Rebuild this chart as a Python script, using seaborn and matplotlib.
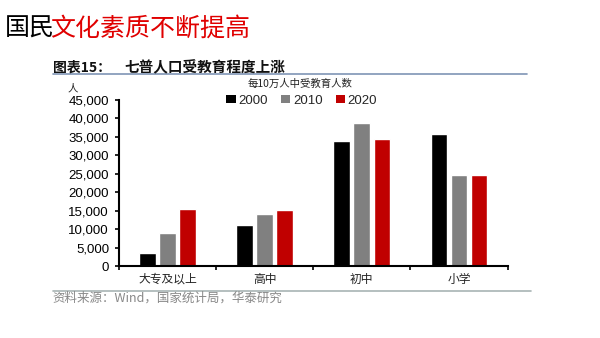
import matplotlib
matplotlib.use("Agg")
import matplotlib.pyplot as plt
import seaborn as sns
import pandas as pd
from matplotlib.ticker import FuncFormatter, FixedLocator
from matplotlib.patches import Patch

categories = ["大专及以上", "高中", "初中", "小学"]
years = ["2000", "2010", "2020"]
v2000 = [3611, 11146, 33961, 35701]
v2010 = [8930, 14032, 38788, 24700]
v2020 = [15467, 15088, 34507, 24767]
yticks = [0, 5000, 10000, 15000, 20000, 25000, 30000, 35000, 40000, 45000]
colors = ["#000000", "#808080", "#C00000"]

rows = []
for yr, vals in zip(years, [v2000, v2010, v2020]):
    for c, v in zip(categories, vals):
        rows.append({"类别": c, "年份": yr, "人数": v})
df = pd.DataFrame(rows)

sns.set_theme(style="white")
plt.rcParams['font.family'] = ['Noto Sans CJK SC', 'DejaVu Sans']

fig = plt.figure(figsize=(6, 3.38), dpi=100)
ax = fig.add_axes([0.198, 0.213, 0.648, 0.491])
sns.barplot(data=df, x="类别", y="人数", hue="年份", palette=colors,
            width=0.62, gap=0.17, ax=ax, legend=False, saturation=1)

ax.set_ylim(0, 45000)
ax.set_xlim(-0.5, 3.5)
ax.yaxis.set_major_locator(FixedLocator(yticks))
ax.yaxis.set_major_formatter(FuncFormatter(lambda v, p: f"{int(v):,}"))
for lab in ax.get_yticklabels():
    lab.set_family(['Liberation Sans'])
ax.tick_params(axis='y', labelsize=9.5, length=3, width=1.2, direction='out', left=True, pad=4, colors='black')
ax.set_xticks([0, 1, 2, 3])
ax.set_xticklabels(categories, fontsize=8.5, color='#222222')
ax.tick_params(axis='x', length=0, pad=5)
ax.set_xticks([-0.5, 0.5, 1.5, 2.5, 3.5], minor=True)
ax.tick_params(axis='x', which='minor', length=3, width=1.2, direction='out', bottom=True, color='black')
ax.set_xlabel("")
ax.set_ylabel("")
for s in ["top", "right"]:
    ax.spines[s].set_visible(False)
for s in ["left", "bottom"]:
    ax.spines[s].set_color("black")
    ax.spines[s].set_linewidth(1.5)

handles = [Patch(facecolor=c, edgecolor='none') for c in colors]
fig.legend(handles, years, loc='center', bbox_to_anchor=(0.503, 0.702), ncol=3,
           frameon=False, handlelength=0.7, handleheight=0.5,
           handletextpad=0.2, columnspacing=1.0,
           prop={'family': ['Liberation Sans'], 'size': 9.5})
fig.text(0.5, 0.752, "每10万人中受教育人数", ha='center', va='center', fontsize=7.5, color='#222222')
fig.text(0.122, 0.738, "人", ha='center', va='center', fontsize=7.5, color='#222222')

# titles
t1 = fig.text(0.008, 0.915, "国民", ha='left', va='center', fontsize=18, color='black')
fig.canvas.draw()
bb = t1.get_window_extent(renderer=fig.canvas.get_renderer())
x_next = bb.x1 / fig.bbox.width - 5.0 / 600
fig.text(x_next, 0.915, "文化素质不断提高", ha='left', va='center', fontsize=18, color='#E00000')
fig.text(0.088, 0.80, "图表15：", ha='left', va='center', fontsize=10, fontweight='bold', color='#111111')
fig.text(0.208, 0.80, "七普人口受教育程度上涨", ha='left', va='center', fontsize=10.5, fontweight='bold', color='#111111')
fig.add_artist(plt.Line2D([0.088, 0.878], [0.781, 0.781], color='#7F95B5', linewidth=1.2))
fig.add_artist(plt.Line2D([0.088, 0.885], [0.139, 0.139], color='#A8B4B4', linewidth=1.2))
fig.text(0.088, 0.117, "资料来源：Wind，国家统计局，华泰研究", ha='left', va='center', fontsize=9, color='#888888')

fig.savefig("out.png", dpi=100, facecolor='white')
